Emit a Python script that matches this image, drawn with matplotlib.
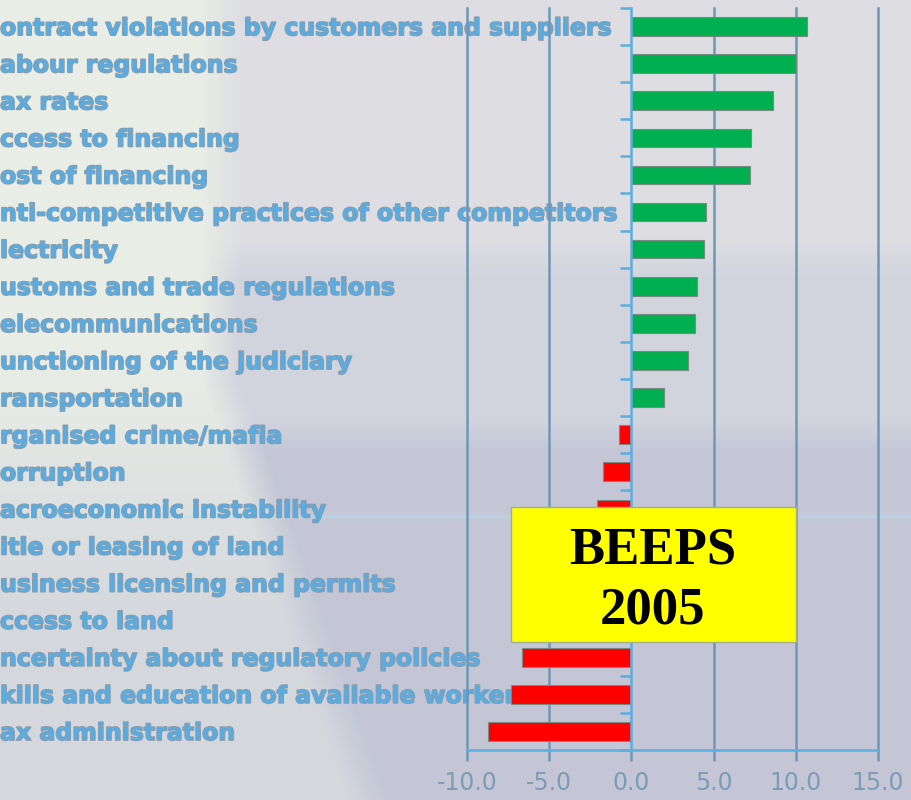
import matplotlib.pyplot as plt
import matplotlib.patheffects as pe
from matplotlib.patches import Rectangle
import numpy as np

plt.rcParams['axes.unicode_minus'] = False

# Category labels as they appear (first letter cut off at the slide edge)
labels = [
    'ontract violations by customers and suppliers',
    'abour regulations',
    'ax rates',
    'ccess to financing',
    'ost of financing',
    'nti-competitive practices of other competitors',
    'lectricity',
    'ustoms and trade regulations',
    'elecommunications',
    'unctioning of the judiciary',
    'ransportation',
    'rganised crime/mafia',
    'orruption',
    'acroeconomic instability',
    'itle or leasing of land',
    'usiness licensing and permits',
    'ccess to land',
    'ncertainty about regulatory policies',
    'kills and education of available workers',
    'ax administration',
]
values = [10.7, 10.0, 8.6, 7.3, 7.2, 4.55, 4.4, 4.0, 3.85, 3.45,
          2.0, -0.75, -1.7, -2.1, -3.0, -3.9, -5.2, -6.65, -7.35, -8.7]
xticks = [-10, -5, 0, 5, 10, 15]

fig = plt.figure(figsize=(9.12, 8), dpi=100)

# slide background
bg = fig.add_axes([0, 0, 1, 1], zorder=-10)
H, W = 800, 912
yy, xx = np.mgrid[0:H, 0:W]
img = np.zeros((H, W, 3))
top = np.array([0.87, 0.87, 0.89])
mid = np.array([0.82, 0.83, 0.87])
low = np.array([0.77, 0.78, 0.84])
t1 = np.clip((yy - 240) / 40, 0, 1)[..., None]
t2 = np.clip((yy - 420) / 30, 0, 1)[..., None]
img[:] = top * (1 - t1) + mid * t1
img = img * (1 - t2) + low * t2
# pale greenish area on the left, fading lower down
edge = 240 + np.where(yy > 380, (yy - 380) * 0.35, 0)
fade = np.clip(1 - (yy - 350) / 500, 0.45, 1)
w = (np.clip((edge - xx) / 40, 0, 1) * fade)[..., None]
pale = np.array([0.91, 0.93, 0.90])
img = img * (1 - w) + pale * w
# thin light blue stripe
band = np.exp(-((yy - 516) / 2.0) ** 2)[..., None]
img = img * (1 - 0.5 * band) + np.array([0.72, 0.87, 0.93]) * 0.5 * band
bg.imshow(img, aspect='auto', extent=[0, 1, 0, 1])
bg.axis('off')

ax = fig.add_axes([467 / 912, 50 / 800, 411 / 912, 742 / 800])
ax.patch.set_alpha(0)

y = np.arange(len(values))
colors = ['#00b050' if v >= 0 else '#ff0000' for v in values]
ax.barh(y, values, height=0.5, color=colors, edgecolor='#7a8a80',
        linewidth=0.8, zorder=3)

ax.set_xlim(-10, 15)
ax.set_ylim(len(values) - 0.5, -0.5)

for xv in xticks:
    if xv != 0:
        ax.axvline(xv, color='#6e98b6', linewidth=1.8, zorder=1,
                   clip_on=False)

for s in ['top', 'right']:
    ax.spines[s].set_visible(False)
ax.spines['left'].set_position(('data', 0))
ax.spines['left'].set_color('#5aaee0')
ax.spines['left'].set_linewidth(1.8)
ax.spines['left'].set_zorder(4)
ax.spines['bottom'].set_color('#5aaee0')
ax.spines['bottom'].set_linewidth(1.8)

ax.set_yticks(np.arange(-0.5, len(values), 1))
ax.set_yticklabels([])
ax.tick_params(axis='y', direction='out', length=8, width=1.8,
               color='#5aaee0')
ax.set_xticks(xticks)
ax.set_xticklabels([f'{v:.1f}' for v in xticks], fontsize=17,
                   color='#7a9cb4')
ax.tick_params(axis='x', direction='out', length=8, width=1.8,
               color='#6e98b6', pad=7)

# category labels, drawn behind the plot elements
outline = [pe.withStroke(linewidth=1.2, foreground='#8f9ba6')]
for i, lab in enumerate(labels):
    yf = (742 - (i + 0.5) * 742 / len(labels) + 50) / 800 - 0.002
    fig.text(0.0, yf, lab, ha='left', va='center', fontsize=17,
             fontweight='bold', color='#5aace0', path_effects=outline,
             zorder=-5)

# yellow BEEPS box
fig.patches.append(Rectangle((511 / 912, 158 / 800), 285 / 912, 135 / 800,
                             transform=fig.transFigure, facecolor='#ffff00',
                             edgecolor='#a0b090', linewidth=1, zorder=6))
fig.text(653 / 912, 250 / 800, 'BEEPS', ha='center', va='center',
         fontsize=38, fontweight='bold', family='Liberation Serif', zorder=7)
fig.text(653 / 912, 189 / 800, '2005', ha='center', va='center',
         fontsize=38, fontweight='bold', family='Liberation Serif', zorder=7)

fig.savefig('out.png', dpi=100)
